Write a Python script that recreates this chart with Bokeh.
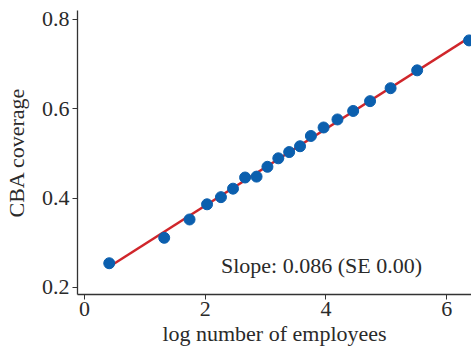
from bokeh.plotting import figure
from bokeh.models import FixedTicker, Range1d, Label
from bokeh.embed import file_html
from bokeh.resources import INLINE

log_employees = [0.41, 1.32, 1.74, 2.03, 2.26, 2.46, 2.66, 2.85, 3.03, 3.21,
                 3.39, 3.57, 3.75, 3.96, 4.19, 4.45, 4.73, 5.07, 5.51, 6.37]
cba_coverage = [0.254, 0.311, 0.352, 0.386, 0.402, 0.421, 0.446, 0.448, 0.470, 0.489,
                0.503, 0.516, 0.539, 0.558, 0.576, 0.595, 0.617, 0.646, 0.686, 0.753]
fit_slope = 0.086
fit_intercept = 0.211
fit_x = [0.41, 6.45]
fit_y = [fit_intercept + fit_slope * v for v in fit_x]
x_ticks = [0, 2, 4, 6]
y_ticks = [0.2, 0.4, 0.6, 0.8]

FONT = "Liberation Serif"
TXT = "#2a2a2a"
FS = "22px"

p = figure(width=471, height=350, output_backend="svg", toolbar_location=None,
           x_range=Range1d(-0.116, 6.41), y_range=Range1d(0.184, 0.82),
           min_border_left=76, min_border_bottom=56, min_border_top=10, min_border_right=0)
p.outline_line_color = None
p.xgrid.visible = False
p.ygrid.visible = False
p.background_fill_color = "white"
p.border_fill_color = "white"

p.line(fit_x, fit_y, line_color="#d0262b", line_width=2.5)
p.scatter(log_employees, cba_coverage, size=11, fill_color="#0b5fae", line_color="#0b5fae")

for ax in (p.xaxis[0], p.yaxis[0]):
    ax.axis_line_color = "#333333"
    ax.axis_line_width = 1.3
    ax.major_tick_line_color = "#333333"
    ax.major_tick_out = 5
    ax.major_tick_in = 0
    ax.minor_tick_line_color = None
    ax.major_label_text_font = FONT
    ax.major_label_text_font_size = FS
    ax.major_label_text_color = TXT
    ax.axis_label_text_font = FONT
    ax.axis_label_text_font_size = FS
    ax.axis_label_text_color = TXT
    ax.axis_label_text_font_style = "normal"

p.xaxis.ticker = FixedTicker(ticks=x_ticks)
p.yaxis.ticker = FixedTicker(ticks=y_ticks)
p.xaxis.axis_label = "log number of employees"
p.yaxis.axis_label = "CBA coverage"
p.xaxis.major_label_standoff = 2
p.yaxis.major_label_standoff = 3
p.xaxis.axis_label_standoff = 2
p.yaxis.axis_label_standoff = 10

p.add_layout(Label(x=2.26, y=0.222, text="Slope: 0.086 (SE 0.00)",
                   text_font=FONT, text_font_size=FS, text_color=TXT))

open("out.html", "w").write(file_html(p, INLINE))
